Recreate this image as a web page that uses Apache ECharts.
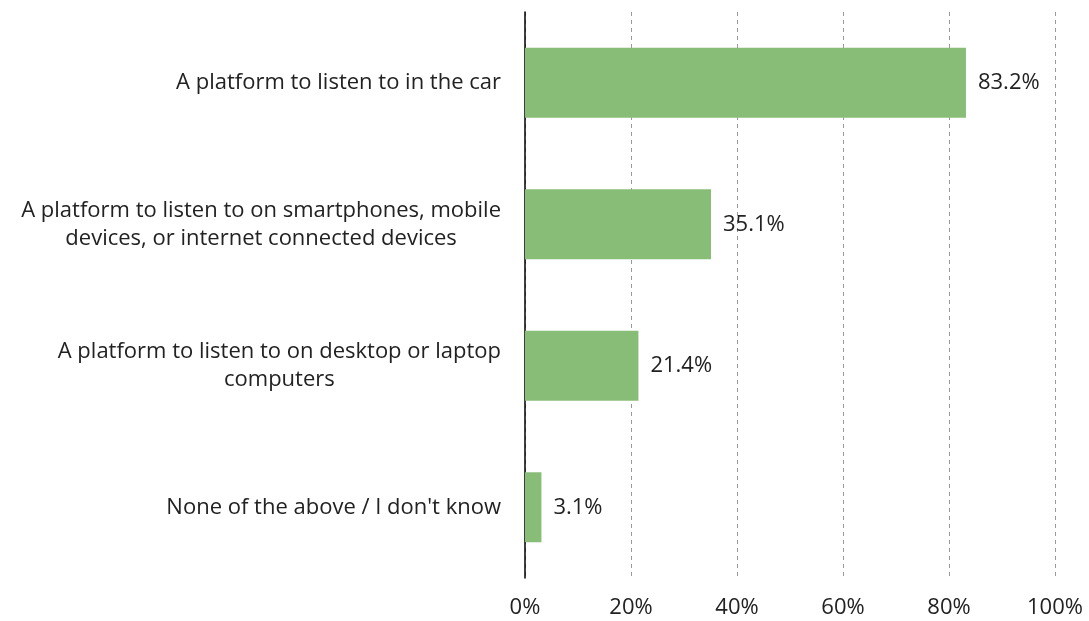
<!DOCTYPE html>
<html>
<head>
<meta charset="utf-8">
<script src="https://cdn.jsdelivr.net/npm/echarts@6/dist/echarts.min.js"></script>
<style>
  html, body { margin: 0; padding: 0; background: #fff; }
  #chart { width: 1089px; height: 621px; }
</style>
</head>
<body>
<div id="chart"></div>
<script>
// Listening platforms, share of respondents (%)
const categories = [
  'A platform to listen to in the car',
  'A platform to listen to on smartphones, mobile\ndevices, or internet connected devices',
  'A platform to listen to on desktop or laptop\ncomputers',
  'None of the above / I don\'t know'
];
const values = [83.2, 35.1, 21.4, 3.1];
const tickValues = [0, 20, 40, 60, 80, 100];

const FONT = '"Open Sans", Lato, sans-serif';
const FONT_SIZE = 22;
const TEXT_COLOR = '#222';
const chart = echarts.init(document.getElementById('chart'));
chart.setOption({
  animation: false,
  grid: { left: 525, right: 34, top: 12, bottom: 43, containLabel: false },
  xAxis: {
    type: 'value',
    min: tickValues[0],
    max: tickValues[tickValues.length - 1],
    interval: 20,
    axisLine: { show: false },
    axisTick: { show: false },
    axisLabel: {
      formatter: v => v + '%',
      color: TEXT_COLOR,
      fontSize: FONT_SIZE,
      fontFamily: FONT,
      margin: 19
    },
    splitLine: {
      show: true,
      lineStyle: { color: '#999', type: [4, 4], width: 1 }
    }
  },
  yAxis: {
    type: 'category',
    data: categories,
    inverse: true,
    axisLine: { show: true, lineStyle: { color: '#000', width: 1.5 } },
    axisTick: { show: false },
    axisLabel: {
      formatter: v => v.split('\n').map(s => '{c|' + s + '}').join('\n'),
      margin: 24,
      rich: {
        c: {
          color: TEXT_COLOR,
          fontSize: FONT_SIZE,
          fontFamily: FONT,
          lineHeight: 28,
          align: 'center'
        }
      }
    }
  },
  series: [{
    type: 'bar',
    data: values,
    barWidth: '49.5%',
    itemStyle: { color: '#88bd78' },
    label: {
      show: true,
      position: 'right',
      distance: 12,
      formatter: p => p.value.toFixed(1) + '%',
      color: TEXT_COLOR,
      fontSize: FONT_SIZE,
      fontFamily: FONT
    }
  }]
});
</script>
</body>
</html>
